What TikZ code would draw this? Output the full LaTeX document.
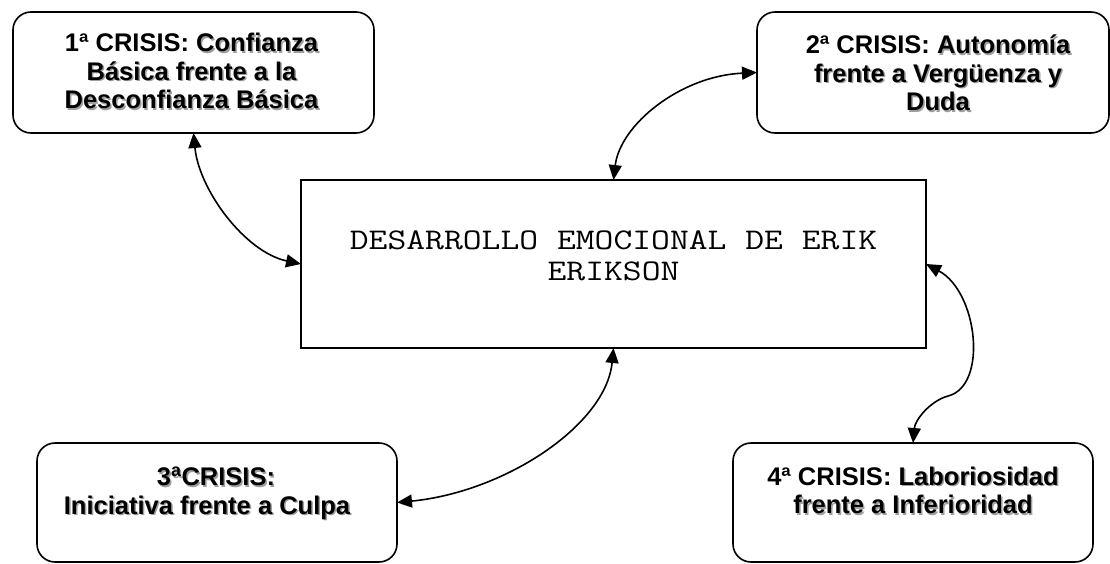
\documentclass[tikz,border=0pt]{standalone}
\usepackage{fontspec}
\usepackage{graphicx}
\setmainfont{Liberation Sans}
\usetikzlibrary{arrows.meta}
\newcommand\shtxt[1]{\leavevmode\rlap{\hspace{1.5pt}\raisebox{-1.5pt}{\textcolor{black!38}{#1}}}#1}
\newcommand\wide[1]{\scalebox{1.219}[1]{#1}}
\begin{document}
\begin{tikzpicture}[x=1pt,y=-1pt,
  crisis/.style={draw, line width=1.6pt, rounded corners=18pt, inner sep=0pt, outer sep=0pt},
  mainbox/.style={draw, line width=1.6pt, inner sep=0pt, outer sep=0pt},
  lbl/.style={font=\bfseries\fontsize{25.5}{28.5}\selectfont, align=center, inner sep=0pt, text=black},
  ttl/.style={font=\ttfamily\fontsize{30}{31}\selectfont, align=center, inner sep=0pt},
  link/.style={<->, >={Triangle[length=15pt,width=13pt]}, line width=1.6pt}]
\useasboundingbox (0,0) rectangle (1110,563);
% boxes
\node[crisis, minimum width=361pt, minimum height=121pt] (b1) at (193.5,72.5) {};
\node[crisis, minimum width=352pt, minimum height=121pt] (b2) at (933,72.5) {};
\node[mainbox, minimum width=625pt, minimum height=168pt] (c) at (613.5,264) {};
\node[crisis, minimum width=360pt, minimum height=119pt] (b3) at (217,502.5) {};
\node[crisis, minimum width=360pt, minimum height=119pt] (b4) at (913,502.5) {};
% texts
\node[lbl] (t1) at (191.5,72) {1ª CRISIS: \shtxt{Confianza}\\\shtxt{Básica frente a la}\\\shtxt{Desconfianza Básica}};
\node[lbl] (t2) at (938,74) {2ª CRISIS: \shtxt{Autonomía}\\\shtxt{frente a Vergüenza y}\\\shtxt{Duda}};
\node[lbl] (t3) at (216,494) {\shtxt{3\textsuperscript{a}CRISIS:}\\\shtxt{Iniciativa frente a Culpa}\hspace*{18pt}};
\node[lbl] (t4) at (913,491) {4ª CRISIS: \shtxt{Laboriosidad}\\\shtxt{frente a Inferioridad}};
\node[ttl] (tc) at (613.5,255.5) {\wide{DESARROLLO EMOCIONAL DE ERIK}\\\wide{ERIKSON}};
% connectors
\draw[link] (b1.south) .. controls (199,190) and (245,252) .. (c.west);
\draw[link] (c.north) .. controls (620,125) and (680,76) .. (b2.west);
\draw[link] (c.south) .. controls (606,425) and (505,492) .. (b3.east);
\draw[link] (c.east) .. controls (978,292) and (988,386) .. (948,396)
  .. controls (930,401) and (915,420) .. (b4.north);
\end{tikzpicture}
\end{document}
